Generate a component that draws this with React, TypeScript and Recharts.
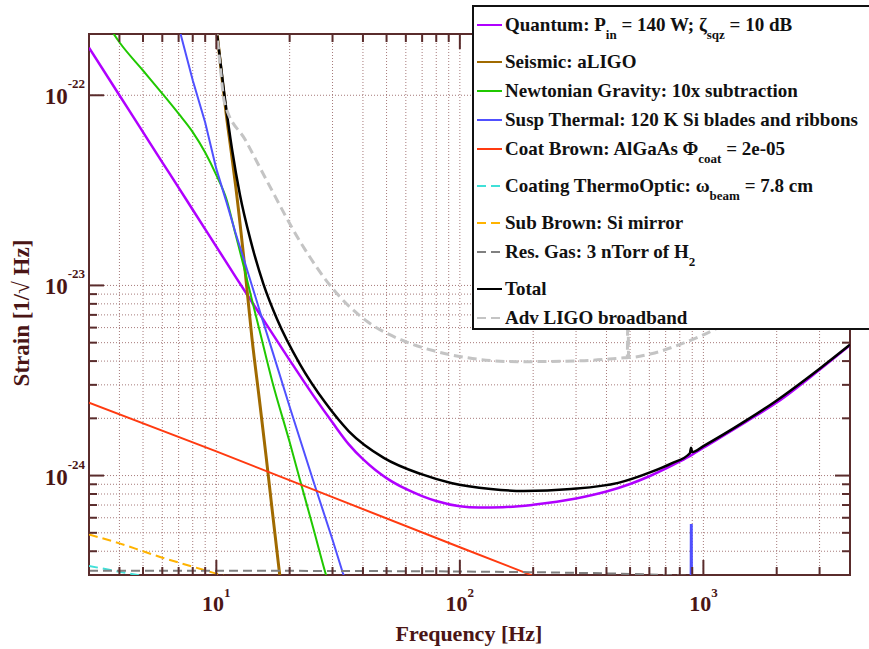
import React from "react";
import { LineChart, Line, XAxis, YAxis, CartesianGrid, Legend, ReferenceArea } from "recharts";

// frequency grids (Hz) and strain ASD values (1/rtHz)
const quantumFreq = [3, 4, 5, 6, 7, 8, 10, 12, 15, 20, 25, 30, 35, 40, 45, 50, 60, 70, 80, 100, 120, 150, 200, 250, 300, 400, 500, 600, 700, 800, 900, 1000, 1500, 2000, 3000, 4000];
const quantumAsd = [1.78e-22, 1.0e-22, 6.4e-23, 4.44e-23, 3.27e-23, 2.5e-23, 1.6e-23, 1.11e-23, 7.14e-24, 4.05e-24, 2.64e-24, 1.9e-24, 1.46e-24, 1.22e-24, 1.07e-24, 9.7e-25, 8.5e-25, 7.8e-25, 7.35e-25, 6.9e-25, 6.8e-25, 6.82e-25, 7.02e-25, 7.28e-25, 7.57e-25, 8.24e-25, 9.03e-25, 9.92e-25, 1.087e-24, 1.187e-24, 1.29e-24, 1.4e-24, 1.92e-24, 2.42e-24, 3.6e-24, 4.85e-24];

const seismicFreq = [10, 10.5, 11, 11.5, 12, 13, 14, 15, 16, 17, 18, 19];
const seismicAsd = [2.3e-22, 1.3e-22, 7.8e-23, 5.1e-23, 3.35e-23, 1.35e-23, 5.3e-24, 2.55e-24, 1.27e-24, 6.4e-25, 3.4e-25, 1.9e-25];

const newtonianFreq = [3.7, 4, 5, 6, 7, 8, 9, 10, 11, 12, 13, 14, 15, 17, 20, 22, 25, 28, 30];
const newtonianAsd = [2.2e-22, 1.9e-22, 1.35e-22, 1.02e-22, 8.0e-23, 6.4e-23, 5.0e-23, 3.8e-23, 2.85e-23, 1.85e-23, 1.24e-23, 8.4e-24, 5.9e-24, 3.1e-24, 1.5e-24, 9.6e-25, 5.3e-25, 3.1e-25, 2.3e-25];

const suspFreq = [7, 8, 9, 10, 11, 12, 13, 14, 15, 17, 20, 25, 30, 33, 36, 880, 888, 896, 905];
const suspAsd = [2.3e-22, 1.2e-22, 7.2e-23, 4.1e-23, 2.75e-23, 1.88e-23, 1.36e-23, 1.0e-23, 7.5e-24, 4.5e-24, 2.3e-24, 9.4e-25, 4.6e-25, 3.1e-25, 2.3e-25, 1e-26, 5.5e-25, 5.5e-25, 1e-26];

const coatBrownFreq = [3, 10, 30, 100, 200, 300];
const coatBrownAsd = [2.42e-24, 1.34e-24, 7.7e-25, 4.2e-25, 2.97e-25, 2.42e-25];

const thermoOpticFreq = [3, 4, 5, 6, 8];
const thermoOpticAsd = [3.35e-25, 3.12e-25, 2.97e-25, 2.85e-25, 2.7e-25];

const subBrownFreq = [3, 4, 5, 6, 8, 10, 12, 15];
const subBrownAsd = [4.9e-25, 4.4e-25, 4.0e-25, 3.7e-25, 3.32e-25, 3.05e-25, 2.85e-25, 2.65e-25];

const resGasFreq = [3, 10, 30, 100, 300, 500, 700, 1000, 2000];
const resGasAsd = [3.16e-25, 3.16e-25, 3.15e-25, 3.13e-25, 3.08e-25, 3.04e-25, 3.0e-25, 2.95e-25, 2.85e-25];

const totalFreq = [10, 10.8, 11.6, 12.5, 13.8, 15.6, 17.8, 22, 28, 35, 48.7, 69, 92, 134, 183, 286, 447, 611, 740, 880, 890, 900, 1000, 1500, 1960, 3000, 4000];
const totalAsd = [2.25e-22, 1.0e-22, 5.2e-23, 3.0e-23, 1.74e-23, 1.02e-23, 6.6e-24, 3.87e-24, 2.42e-24, 1.71e-24, 1.24e-24, 1.02e-24, 9.15e-25, 8.5e-25, 8.3e-25, 8.5e-25, 9.15e-25, 1.045e-24, 1.16e-24, 1.31e-24, 1.4e-24, 1.33e-24, 1.43e-24, 1.95e-24, 2.44e-24, 3.65e-24, 4.88e-24];

const aligoFreq = [10, 10.4, 10.8, 13.2, 16.2, 22.2, 30.3, 41.8, 57.2, 78.2, 108, 173, 324, 473, 487, 490, 493, 611, 812, 1150, 1500, 2000, 3000, 4000];
const aligoAsd = [2.3e-22, 1.37e-22, 9.15e-23, 5.78e-23, 3.51e-23, 1.68e-23, 9.5e-24, 6.44e-24, 5.18e-24, 4.53e-24, 4.16e-24, 3.97e-24, 4.02e-24, 4.16e-24, 4.17e-24, 9e-24, 4.18e-24, 4.37e-24, 4.93e-24, 6.0e-24, 7.3e-24, 9.5e-24, 1.4e-23, 1.85e-23];

const X_TICKS = [3, 4, 5, 6, 7, 8, 9, 10, 20, 30, 40, 50, 60, 70, 80, 90, 100, 200, 300, 400, 500, 600, 700, 800, 900, 1000, 2000, 3000, 4000];
const Y_TICKS = [3e-25, 4e-25, 5e-25, 6e-25, 7e-25, 8e-25, 9e-25, 1e-24, 2e-24, 3e-24, 4e-24, 5e-24, 6e-24, 7e-24, 8e-24, 9e-24, 1e-23, 1e-22];
const X_DOMAIN = [3, 4000];
const Y_DOMAIN = [3e-25, 2.1e-22];

const FONT = "'Liberation Serif', 'Times New Roman', serif";
const AXIS = "#5a2c2c";
const TEXT = "#4a1515";
const PLOT = { left: 89, right: 850, top: 34, bottom: 575 };

const zip = (f: number[], v: number[]) => f.map((x, i) => ({ f: x, v: v[i] }));
const isDecade = (v: number) => Math.abs(Math.log10(v) - Math.round(Math.log10(v))) < 1e-9;

const Sub = ({ children }: { children: React.ReactNode }) => (
  <span style={{ fontSize: 13, position: "relative", top: 8 }}>{children}</span>
);

const SERIES = [
  { key: "quantum", label: <>Quantum: P<Sub>in</Sub> = 140 W; ζ<Sub>sqz</Sub> = 10 dB</>, sub: true, color: "#b000ff", width: 2.5, dash: undefined, type: "monotone", data: zip(quantumFreq, quantumAsd) },
  { key: "seismic", label: <>Seismic: aLIGO</>, sub: false, color: "#a06a00", width: 3, dash: undefined, type: "monotone", data: zip(seismicFreq, seismicAsd) },
  { key: "newtonian", label: <>Newtonian Gravity: 10x subtraction</>, sub: false, color: "#20c800", width: 2, dash: undefined, type: "monotone", data: zip(newtonianFreq, newtonianAsd) },
  { key: "susp", label: <>Susp Thermal: 120 K Si blades and ribbons</>, sub: false, color: "#5050ff", width: 2, dash: undefined, type: "linear", data: zip(suspFreq, suspAsd) },
  { key: "coat", label: <>Coat Brown: AlGaAs Φ<Sub>coat</Sub> = 2e-05</>, sub: true, color: "#ff3a10", width: 2, dash: undefined, type: "linear", data: zip(coatBrownFreq, coatBrownAsd) },
  { key: "thermo", label: <>Coating ThermoOptic: ω<Sub>beam</Sub> = 7.8 cm</>, sub: true, color: "#40e0d8", width: 2, dash: "9 5", type: "monotone", data: zip(thermoOpticFreq, thermoOpticAsd) },
  { key: "sub", label: <>Sub Brown: Si mirror</>, sub: false, color: "#ffb300", width: 2, dash: "9 5", type: "monotone", data: zip(subBrownFreq, subBrownAsd) },
  { key: "gas", label: <>Res. Gas: 3 nTorr of H<Sub>2</Sub></>, sub: true, color: "#808080", width: 2, dash: "9 5", type: "monotone", data: zip(resGasFreq, resGasAsd) },
  { key: "total", label: <>Total</>, sub: false, color: "#000000", width: 2.5, dash: undefined, type: "monotone", data: zip(totalFreq, totalAsd) },
  { key: "aligo", label: <>Adv LIGO broadband</>, sub: false, color: "#c4c4c4", width: 3, dash: "9 5", type: "monotone", data: zip(aligoFreq, aligoAsd) },
];

const XTick = (props: any) => {
  const { x, payload } = props;
  const major = isDecade(payload.value);
  const len = major ? 15 : 8;
  return (
    <g>
      <line x1={x} x2={x} y1={PLOT.bottom} y2={PLOT.bottom - len} stroke={AXIS} strokeWidth={2} />
      <line x1={x} x2={x} y1={PLOT.top} y2={PLOT.top + len} stroke={AXIS} strokeWidth={2} />
      {major && (
        <text x={x} y={611} textAnchor="middle" fill={TEXT} fontFamily={FONT} fontWeight="bold" fontSize={22}>
          10
          <tspan dy={-14} fontSize={13}>{Math.round(Math.log10(payload.value))}</tspan>
        </text>
      )}
    </g>
  );
};

const YTick = (props: any) => {
  const { y, payload } = props;
  const major = isDecade(payload.value);
  const len = major ? 15 : 8;
  return (
    <g>
      <line x1={PLOT.left} x2={PLOT.left + len} y1={y} y2={y} stroke={AXIS} strokeWidth={2} />
      <line x1={PLOT.right} x2={PLOT.right - len} y1={y} y2={y} stroke={AXIS} strokeWidth={2} />
      {major && (
        <text x={85} y={y + 9} textAnchor="end" fill={TEXT} fontFamily={FONT} fontWeight="bold" fontSize={23}>
          10
          <tspan dy={-16} fontSize={13}>{Math.round(Math.log10(payload.value))}</tspan>
        </text>
      )}
    </g>
  );
};

const LegendBox = () => (
  <div
    style={{
      background: "#fff",
      border: "2px solid #111",
      padding: "4px 0 0 2px",
      width: 420,
      height: 325,
      boxSizing: "border-box",
      fontFamily: FONT,
      fontWeight: "bold",
      fontSize: 19,
      color: "#111",
      textAlign: "left",
    }}
  >
    {SERIES.map((s) => (
      <div key={s.key} style={{ height: s.sub ? 37 : 29, display: "flex", alignItems: "flex-start", whiteSpace: "nowrap" }}>
        <svg width={27} height={28} style={{ flex: "none" }}>
          <line x1={1} x2={26} y1={14} y2={14} stroke={s.color} strokeWidth={2} strokeDasharray={s.dash ? "9 5" : undefined} />
        </svg>
        <span style={{ lineHeight: "28px", marginLeft: 2 }}>{s.label}</span>
      </div>
    ))}
  </div>
);

export default function App() {
  return (
    <div style={{ position: "absolute", left: 0, top: 0, width: 869, height: 649, overflow: "hidden", background: "#fff" }}>
      <LineChart width={869} height={649} margin={{ top: 34, right: 19, bottom: 14, left: 9 }}>
        <CartesianGrid stroke="#a67a7a" strokeDasharray="1 2" strokeWidth={1} />
        <XAxis
          dataKey="f"
          type="number"
          scale="log"
          domain={X_DOMAIN}
          allowDataOverflow
          ticks={X_TICKS}
          interval={0}
          height={60}
          tickLine={false}
          axisLine={false}
          tick={<XTick />}
          label={{
            content: () => (
              <text x={469} y={641} textAnchor="middle" fill={TEXT} fontFamily={FONT} fontWeight="bold" fontSize={22}>
                Frequency [Hz]
              </text>
            ),
          }}
        />
        <YAxis
          type="number"
          scale="log"
          domain={Y_DOMAIN}
          allowDataOverflow
          ticks={Y_TICKS}
          interval={0}
          width={80}
          tickLine={false}
          axisLine={false}
          tick={<YTick />}
          label={{
            content: () => (
              <text x={29} y={313} transform="rotate(-90 29 313)" textAnchor="middle" fill={TEXT} fontFamily={FONT} fontWeight="bold" fontSize={23}>
                Strain [1/√ Hz]
              </text>
            ),
          }}
        />
        {SERIES.map((s) => (
          <Line
            key={s.key}
            data={s.data}
            dataKey="v"
            name={s.key}
            type={s.type as any}
            stroke={s.color}
            strokeWidth={s.width}
            strokeDasharray={s.dash}
            dot={false}
            activeDot={false}
            isAnimationActive={false}
          />
        ))}
        <ReferenceArea x1={X_DOMAIN[0]} x2={X_DOMAIN[1]} y1={Y_DOMAIN[0]} y2={Y_DOMAIN[1]} fill="none" stroke={AXIS} strokeWidth={2} ifOverflow="visible" />
        <Legend
          layout="horizontal"
          verticalAlign="middle"
          align="center"
          wrapperStyle={{ left: 472, top: 5, width: 420 }}
          content={() => <LegendBox />}
        />
      </LineChart>
    </div>
  );
}
